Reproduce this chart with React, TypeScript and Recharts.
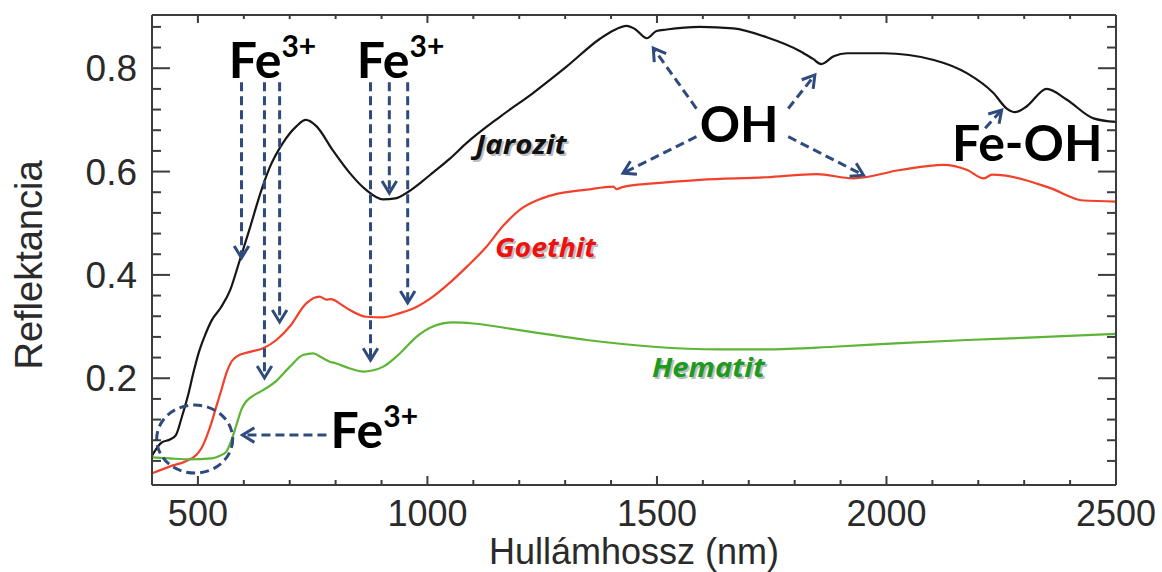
import { LineChart, Line, XAxis, YAxis, ReferenceLine, ReferenceDot } from 'recharts';

// reflectance spectra (wavelength in nm, reflectance 0..1)
const jarozitNm = [400, 420, 440, 452, 465, 478, 490, 502, 515, 530, 550, 570, 590, 613, 635, 656, 685, 715, 735, 758, 794, 831, 867, 903, 930, 960, 990, 1012, 1049, 1085, 1158, 1230, 1303, 1376, 1405, 1434, 1452, 1478, 1499, 1521, 1594, 1666, 1739, 1812, 1840, 1858, 1885, 1914, 1994, 2103, 2176, 2233, 2262, 2280, 2305, 2349, 2393, 2451, 2500];
const jarozitR = [0.050, 0.075, 0.082, 0.090, 0.125, 0.165, 0.210, 0.250, 0.282, 0.312, 0.337, 0.370, 0.425, 0.490, 0.555, 0.607, 0.655, 0.688, 0.700, 0.688, 0.641, 0.597, 0.564, 0.546, 0.548, 0.562, 0.582, 0.598, 0.625, 0.655, 0.706, 0.752, 0.803, 0.857, 0.873, 0.882, 0.876, 0.858, 0.872, 0.875, 0.880, 0.877, 0.860, 0.833, 0.818, 0.808, 0.823, 0.829, 0.829, 0.816, 0.790, 0.752, 0.722, 0.715, 0.726, 0.760, 0.739, 0.703, 0.696];

const goethitNm = [400, 438, 475, 497, 508, 519, 530, 540, 552, 562, 573, 584, 613, 642, 671, 700, 736, 765, 780, 790, 810, 831, 867, 903, 940, 976, 1012, 1049, 1085, 1129, 1165, 1201, 1240, 1274, 1347, 1405, 1412, 1425, 1492, 1594, 1739, 1848, 1928, 2030, 2124, 2176, 2212, 2230, 2260, 2357, 2429, 2500];
const goethitR = [0.016, 0.029, 0.040, 0.052, 0.065, 0.087, 0.115, 0.145, 0.180, 0.210, 0.232, 0.242, 0.251, 0.258, 0.274, 0.300, 0.345, 0.358, 0.352, 0.353, 0.344, 0.332, 0.319, 0.318, 0.326, 0.338, 0.358, 0.385, 0.415, 0.455, 0.495, 0.526, 0.545, 0.555, 0.565, 0.571, 0.566, 0.570, 0.577, 0.584, 0.589, 0.595, 0.587, 0.603, 0.613, 0.603, 0.587, 0.594, 0.592, 0.568, 0.544, 0.542];

const hematitNm = [400, 438, 482, 530, 548, 562, 573, 584, 595, 605, 620, 642, 671, 700, 729, 751, 770, 787, 800, 831, 860, 880, 903, 940, 976, 1012, 1056, 1100, 1201, 1347, 1492, 1638, 1739, 1885, 2030, 2176, 2321, 2500];
const hematitR = [0.047, 0.045, 0.043, 0.045, 0.050, 0.058, 0.080, 0.110, 0.140, 0.155, 0.166, 0.177, 0.195, 0.222, 0.245, 0.248, 0.240, 0.232, 0.229, 0.219, 0.213, 0.215, 0.222, 0.248, 0.280, 0.300, 0.308, 0.306, 0.293, 0.274, 0.261, 0.256, 0.256, 0.261, 0.268, 0.274, 0.279, 0.286];

const xTicks = [500, 600, 700, 800, 900, 1000, 1100, 1200, 1300, 1400, 1500, 1600, 1700, 1800, 1900, 2000, 2100, 2200, 2300, 2400, 2500];
const xMajor = [500, 1000, 1500, 2000, 2500];
const yTicks = [0.04, 0.08, 0.12, 0.16, 0.2, 0.24, 0.28, 0.32, 0.36, 0.4, 0.44, 0.48, 0.52, 0.56, 0.6, 0.64, 0.68, 0.72, 0.76, 0.8, 0.84, 0.88];
const yMajor = [0.2, 0.4, 0.6, 0.8];

// dashed annotation arrows [fromNm, fromR, toNm, toR]
const arrows = [
  [595, 0.773, 595, 0.433],
  [645, 0.773, 645, 0.2005],
  [678, 0.773, 678, 0.309],
  [876, 0.773, 876, 0.235],
  [917, 0.773, 917, 0.5585],
  [957, 0.773, 957, 0.3457],
  [780, 0.09, 597, 0.09],
  [1586, 0.722, 1492, 0.839],
  [1586, 0.6675, 1426, 0.597],
  [1786, 0.722, 1844, 0.787],
  [1786, 0.6675, 1950, 0.593],
  [2215, 0.684, 2251, 0.719],
];

const bigLabels = [
  { text: 'Fe', sup: '3+', nm: 567, r: 0.781 },
  { text: 'Fe', sup: '3+', nm: 846, r: 0.781 },
  { text: 'Fe', sup: '3+', nm: 789, r: 0.065 },
  { text: 'OH', sup: '', nm: 1593, r: 0.657 },
  { text: 'Fe-OH', sup: '', nm: 2143, r: 0.621 },
];

const seriesLabels = [
  { text: 'Jarozit', nm: 1105, r: 0.634, color: '#111111', w: 91 },
  { text: 'Goethit', nm: 1147, r: 0.434, color: '#ee1111', w: 101 },
  { text: 'Hematit', nm: 1489, r: 0.2025, color: '#1e9a1e', w: 113 },
];

const toRows = (nm: number[], r: number[]) => nm.map((v, i) => ({ nm: v, r: r[i] }));
const jarozit = toRows(jarozitNm, jarozitR);
const goethit = toRows(goethitNm, goethitR);
const hematit = toRows(hematitNm, hematitR);

const AXIS = '#3c3c3c';
const NAVY = '#2f4a7c';
const FONT = '"Liberation Sans", Arial, Helvetica, sans-serif';
const X_DOMAIN = [400, 2500];
const Y_DOMAIN = [-0.0066, 0.903];

const isYMajor = (v: number) => yMajor.some((m) => Math.abs(m - v) < 1e-6);

function BottomTick({ x, y, payload }: any) {
  const major = xMajor.includes(payload.value);
  return (
    <g>
      <line x1={x} x2={x} y1={y} y2={y - (major ? 9 : 5)} stroke={AXIS} strokeWidth={2} />
      {major && (
        <text x={x} y={y + 41} textAnchor="middle" fontSize={36} fontFamily={FONT} fill="#2a2a2a">
          {payload.value}
        </text>
      )}
    </g>
  );
}

function TopTick({ x, y, payload }: any) {
  const major = xMajor.includes(payload.value);
  return <line x1={x} x2={x} y1={y} y2={y + (major ? 8 : 4)} stroke={AXIS} strokeWidth={2} />;
}

function LeftTick({ x, y, payload }: any) {
  const major = isYMajor(payload.value);
  return (
    <g>
      <line x1={x} x2={x + (major ? 18 : 9)} y1={y} y2={y} stroke={AXIS} strokeWidth={2} />
      {major && (
        <text x={x - 15} y={y + 13} textAnchor="end" fontSize={37} fontFamily={FONT} fill="#2a2a2a">
          {payload.value.toFixed(1)}
        </text>
      )}
    </g>
  );
}

function RightTick({ x, y, payload }: any) {
  const major = isYMajor(payload.value);
  return <line x1={x} x2={x - (major ? 18 : 9)} y1={y} y2={y} stroke={AXIS} strokeWidth={2} />;
}

function arrowShape(p: any) {
  const { x1, y1, x2, y2 } = p;
  const ang = Math.atan2(y2 - y1, x2 - x1);
  const L = 14;
  const W = 0.55;
  const ax = x2 - L * Math.cos(ang - W);
  const ay = y2 - L * Math.sin(ang - W);
  const bx = x2 - L * Math.cos(ang + W);
  const by = y2 - L * Math.sin(ang + W);
  return (
    <g>
      <line x1={x1} y1={y1} x2={x2 - 2 * Math.cos(ang)} y2={y2 - 2 * Math.sin(ang)} stroke={NAVY} strokeWidth={3} strokeDasharray="9 5" />
      <polyline points={`${ax},${ay} ${x2},${y2} ${bx},${by}`} fill="none" stroke={NAVY} strokeWidth={3} strokeLinejoin="miter" />
    </g>
  );
}

function circleShape(p: any) {
  return <ellipse cx={p.cx} cy={p.cy} rx={38} ry={34} fill="none" stroke={NAVY} strokeWidth={3} strokeDasharray="9 5" />;
}

const bigLabelShape = (lab: any) => (p: any) => (
  <text x={p.cx} y={p.cy} fontSize={50} fontWeight={700} fontFamily="Lato, sans-serif" fill="#000">
    {lab.text}
    {lab.sup && (
      <tspan fontSize={30} dy={-21}>
        {lab.sup}
      </tspan>
    )}
  </text>
);

const seriesLabelShape = (lab: any) => (p: any) => (
  <g fontSize={27} fontWeight={700} fontStyle="italic" fontFamily='"Open Sans", sans-serif'>
    <text x={p.cx + 2} y={p.cy + 2} fill="#888" opacity={0.55} textLength={lab.w} lengthAdjust="spacingAndGlyphs">
      {lab.text}
    </text>
    <text x={p.cx} y={p.cy} fill={lab.color} textLength={lab.w} lengthAdjust="spacingAndGlyphs">
      {lab.text}
    </text>
  </g>
);

export default function App() {
  return (
    <div style={{ position: 'absolute', left: 0, top: 0, width: 1162, height: 572, background: '#fff' }}>
      <LineChart width={1162} height={572} margin={{ top: 0, right: 0, bottom: 0, left: 0 }}>
        <XAxis
          xAxisId="b"
          dataKey="nm"
          type="number"
          domain={X_DOMAIN}
          allowDataOverflow
          ticks={xTicks}
          interval={0}
          height={87}
          tickSize={0}
          tickMargin={0}
          tickLine={false}
          axisLine={{ stroke: AXIS, strokeWidth: 2 }}
          tick={BottomTick}
          label={{
            content: ({ viewBox }: any) => (
              <text x={viewBox.x + viewBox.width / 2} y={viewBox.y + 79} textAnchor="middle" fontSize={36} fontFamily={FONT} fill="#2a2a2a">
                Hullámhossz (nm)
              </text>
            ),
          }}
        />
        <XAxis
          xAxisId="t"
          orientation="top"
          dataKey="nm"
          type="number"
          domain={X_DOMAIN}
          allowDataOverflow
          ticks={xTicks}
          interval={0}
          height={15}
          tickSize={0}
          tickMargin={0}
          tickLine={false}
          axisLine={{ stroke: AXIS, strokeWidth: 2 }}
          tick={TopTick}
        />
        <YAxis
          yAxisId="l"
          type="number"
          domain={Y_DOMAIN}
          allowDataOverflow
          ticks={yTicks}
          interval={0}
          width={152}
          tickSize={0}
          tickMargin={0}
          tickLine={false}
          axisLine={{ stroke: AXIS, strokeWidth: 2 }}
          tick={LeftTick}
          label={{
            content: ({ viewBox }: any) => {
              const cx = viewBox.x + 42;
              const cy = viewBox.y + viewBox.height / 2 + 15;
              return (
                <text x={cx} y={cy} transform={`rotate(-90, ${cx}, ${cy})`} textAnchor="middle" fontSize={38} fontFamily={FONT} fill="#2a2a2a">
                  Reflektancia
                </text>
              );
            },
          }}
        />
        <YAxis
          yAxisId="r"
          orientation="right"
          type="number"
          domain={Y_DOMAIN}
          allowDataOverflow
          ticks={yTicks}
          interval={0}
          width={46}
          tickSize={0}
          tickMargin={0}
          tickLine={false}
          axisLine={{ stroke: AXIS, strokeWidth: 2 }}
          tick={RightTick}
        />

        <Line xAxisId="b" yAxisId="l" data={jarozit} dataKey="r" type="monotone" stroke="#161616" strokeWidth={2.2} dot={false} activeDot={false} isAnimationActive={false} />
        <Line xAxisId="b" yAxisId="l" data={goethit} dataKey="r" type="monotone" stroke="#f2402a" strokeWidth={2.2} dot={false} activeDot={false} isAnimationActive={false} />
        <Line xAxisId="b" yAxisId="l" data={hematit} dataKey="r" type="monotone" stroke="#5db536" strokeWidth={2.2} dot={false} activeDot={false} isAnimationActive={false} />

        {arrows.map((a, i) => (
          <ReferenceLine
            key={`a${i}`}
            xAxisId="b"
            yAxisId="l"
            segment={[{ x: a[0], y: a[1] }, { x: a[2], y: a[3] }]}
            shape={arrowShape}
          />
        ))}
        <ReferenceDot xAxisId="b" yAxisId="l" x={493} y={0.0824} r={38} shape={circleShape} />
        {bigLabels.map((lab, i) => (
          <ReferenceDot key={`b${i}`} xAxisId="b" yAxisId="l" x={lab.nm} y={lab.r} r={1} shape={bigLabelShape(lab)} />
        ))}
        {seriesLabels.map((lab, i) => (
          <ReferenceDot key={`s${i}`} xAxisId="b" yAxisId="l" x={lab.nm} y={lab.r} r={1} shape={seriesLabelShape(lab)} />
        ))}
      </LineChart>
    </div>
  );
}
